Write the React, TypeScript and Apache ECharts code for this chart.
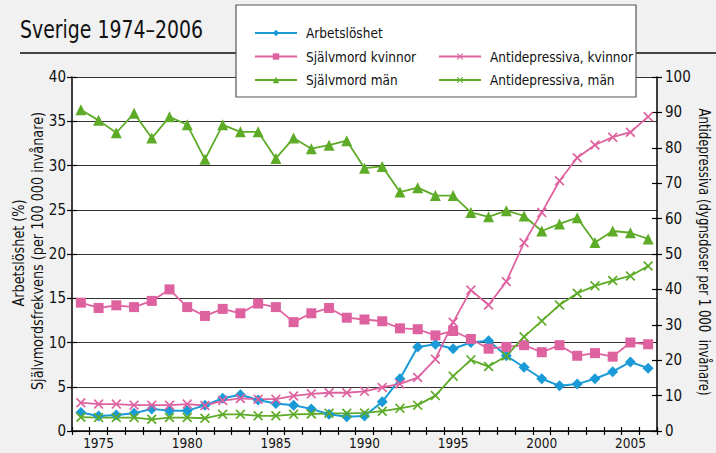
import React, { useEffect, useRef } from "react";
import * as echarts from "echarts";

const years = ["1974","1975","1976","1977","1978","1979","1980","1981","1982","1983","1984","1985","1986","1987","1988","1989","1990","1991","1992","1993","1994","1995","1996","1997","1998","1999","2000","2001","2002","2003","2004","2005","2006"];

const arbetsloshet = [2.1,1.7,1.8,2.0,2.5,2.3,2.3,2.9,3.7,4.1,3.5,3.1,2.9,2.5,1.9,1.6,1.7,3.3,5.9,9.5,9.8,9.3,10.0,10.2,8.5,7.2,5.9,5.1,5.3,5.9,6.7,7.8,7.1];
const sjalvmordKvinnor = [14.5,13.9,14.2,14.0,14.7,16.0,14.0,13.0,13.8,13.3,14.4,14.0,12.3,13.3,13.9,12.8,12.6,12.4,11.6,11.5,10.8,11.3,10.4,9.3,9.5,9.7,8.9,9.7,8.5,8.8,8.4,10.0,9.8];
const sjalvmordMan = [36.3,35.1,33.7,35.9,33.1,35.5,34.6,30.7,34.6,33.8,33.8,30.8,33.1,31.9,32.3,32.8,29.7,29.9,27.0,27.5,26.6,26.6,24.7,24.2,24.9,24.3,22.6,23.4,24.1,21.3,22.6,22.4,21.7];
const antidepKvinnor = [8.0,7.6,7.6,7.3,7.3,7.3,7.6,7.2,8.6,9.2,9.0,9.0,9.9,10.5,10.8,10.8,11.2,12.3,13.3,15.1,20.3,30.7,39.8,35.6,42.2,53.2,61.7,70.7,77.2,80.8,83.0,84.4,88.8];
const antidepMan = [3.9,3.8,3.8,3.8,3.3,3.8,3.8,3.6,4.7,4.7,4.3,4.3,4.7,4.8,5.0,5.0,5.1,5.6,6.4,7.3,10.0,15.5,20.1,18.2,21.2,26.6,31.1,35.6,38.9,41.0,42.5,43.8,46.6];

const titleText = "Sverige 1974–2006";
const leftName1 = "Arbetslöshet (%)";
const leftName2 = "Självmordsfrekvens (per 100 000 invånare)";
const rightName = "Antidepressiva (dygnsdoser per 1 000  invånare)";

const F = "'DejaVu Sans Condensed', 'DejaVu Sans', sans-serif";
const BLUE = "#1a9ad6";
const PINK = "#df62a0";
const GREEN = "#5eab28";
const XSYM = "path://M1.2,0 L5,3.8 L8.8,0 L10,1.2 L6.2,5 L10,8.8 L8.8,10 L5,6.2 L1.2,10 L0,8.8 L3.8,5 L0,1.2 Z";

export default function App() {
  const ref = useRef<HTMLDivElement>(null);
  useEffect(() => {
    if (!ref.current) return;
    const chart = echarts.init(ref.current, null, { renderer: "svg" });
    const tickIn = { show: true, inside: true, length: 5, lineStyle: { color: "#000", width: 1.2 } };
    const tickOut = { show: true, inside: false, length: 5, lineStyle: { color: "#000", width: 1.2 } };
    const legendText = { fontFamily: F, fontSize: 13.5, color: "#111", lineHeight: 16, padding: [0, 0, 0, 4] };
    const option: any = {
      animation: false,
      backgroundColor: "#f1f1f1",
      textStyle: { fontFamily: F },
      grid: {
        left: 72, right: 59, top: 77, bottom: 22,
        show: true, backgroundColor: "#ffffff", borderWidth: 0,
        containLabel: false, outerBoundsMode: "none",
      },
      legend: [
        {
          orient: "vertical", left: 249, top: 20, itemWidth: 42, itemHeight: 8, itemGap: 7.5,
          data: ["Arbetslöshet", "Självmord kvinnor", "Självmord män"],
          textStyle: legendText,
          selectedMode: false,
        },
        {
          orient: "vertical", left: 433, top: 43.5, itemWidth: 42, itemHeight: 8, itemGap: 7.5,
          data: ["Antidepressiva, kvinnor", "Antidepressiva, män"],
          textStyle: legendText,
          selectedMode: false,
        },
      ],
      xAxis: [
        {
          type: "category", data: years, boundaryGap: true, position: "bottom",
          axisLine: { show: true, lineStyle: { color: "#000", width: 1.5 } },
          axisTick: { ...tickOut, length: 4, interval: 0 },
          axisLabel: {
            interval: (i: number, v: string) => Number(v) % 5 === 0,
            color: "#111", fontFamily: F, fontSize: 13.5, margin: 5,
          },
          splitLine: { show: false },
        },
        {
          type: "category", data: years, boundaryGap: true, position: "bottom",
          axisLine: { show: false },
          axisTick: { ...tickIn, length: 4, interval: 0 },
          axisLabel: { show: false },
          splitLine: { show: false },
        },
      ],
      yAxis: [
        {
          type: "value", position: "left", min: 0, max: 40, interval: 5,
          axisLine: { show: true, lineStyle: { color: "#000", width: 1.5 } },
          axisTick: tickOut,
          axisLabel: { color: "#111", fontFamily: F, fontSize: 15, margin: 6 },
          splitLine: { show: true, lineStyle: { color: "#333", width: 1.2 } },
        },
        {
          type: "value", position: "right", min: 0, max: 100, interval: 10,
          axisLine: { show: true, lineStyle: { color: "#000", width: 1.5 } },
          axisTick: tickOut,
          axisLabel: { color: "#111", fontFamily: F, fontSize: 15, margin: 8 },
          splitLine: { show: false },
        },
        {
          type: "value", position: "left", min: 0, max: 40, interval: 5,
          axisLine: { show: false }, axisTick: tickIn, axisLabel: { show: false }, splitLine: { show: false },
        },
        {
          type: "value", position: "right", min: 0, max: 100, interval: 10,
          axisLine: { show: false }, axisTick: tickIn, axisLabel: { show: false }, splitLine: { show: false },
        },
      ],
      series: [
        {
          name: "Arbetslöshet", type: "line", data: arbetsloshet, yAxisIndex: 0,
          symbol: "diamond", symbolSize: 11, showAllSymbol: true,
          lineStyle: { color: BLUE, width: 2 }, itemStyle: { color: BLUE },
        },
        {
          name: "Självmord kvinnor", type: "line", data: sjalvmordKvinnor, yAxisIndex: 0,
          symbol: "rect", symbolSize: 10, showAllSymbol: true,
          lineStyle: { color: PINK, width: 1.8 }, itemStyle: { color: PINK },
        },
        {
          name: "Självmord män", type: "line", data: sjalvmordMan, yAxisIndex: 0,
          symbol: "triangle", symbolSize: 11, showAllSymbol: true,
          lineStyle: { color: GREEN, width: 1.8 }, itemStyle: { color: GREEN },
        },
        {
          name: "Antidepressiva, kvinnor", type: "line", data: antidepKvinnor, yAxisIndex: 1,
          symbol: XSYM, symbolSize: 10, showAllSymbol: true,
          lineStyle: { color: PINK, width: 1.8 }, itemStyle: { color: PINK },
        },
        {
          name: "Antidepressiva, män", type: "line", data: antidepMan, yAxisIndex: 1,
          symbol: XSYM, symbolSize: 10, showAllSymbol: true,
          lineStyle: { color: GREEN, width: 1.8 }, itemStyle: { color: GREEN },
        },
      ],
      graphic: [
        {
          type: "text", x: 20, y: 29, z: 10, scaleX: 0.84,
          style: { text: titleText, fontFamily: F, fontSize: 25, fill: "#111", textAlign: "left", textVerticalAlign: "middle" },
        },
        {
          type: "line", z: 1, shape: { x1: 20, y1: 53, x2: 716, y2: 53 },
          style: { stroke: "#444", lineWidth: 2 },
        },
        {
          type: "rect", z: 3, shape: { x: 236, y: 5, width: 400, height: 92 },
          style: { fill: "#ffffff", stroke: "#555", lineWidth: 1.2 },
        },
        {
          type: "text", x: 18, y: 253, rotation: Math.PI / 2, z: 10, scaleX: 0.95,
          style: { text: leftName1, fontFamily: F, fontSize: 15, fill: "#111", textAlign: "center", textVerticalAlign: "middle" },
        },
        {
          type: "text", x: 37, y: 251, rotation: Math.PI / 2, z: 10, scaleX: 0.95,
          style: { text: leftName2, fontFamily: F, fontSize: 15, fill: "#111", textAlign: "center", textVerticalAlign: "middle" },
        },
        {
          type: "text", x: 704, y: 252, rotation: -Math.PI / 2, z: 10, scaleX: 0.87,
          style: { text: rightName, fontFamily: F, fontSize: 15, fill: "#111", textAlign: "center", textVerticalAlign: "middle" },
        },
      ],
    };
    chart.setOption(option);
    return () => chart.dispose();
  }, []);
  return <div ref={ref} style={{ position: "fixed", left: 0, top: 0, width: 716, height: 453 }} />;
}
